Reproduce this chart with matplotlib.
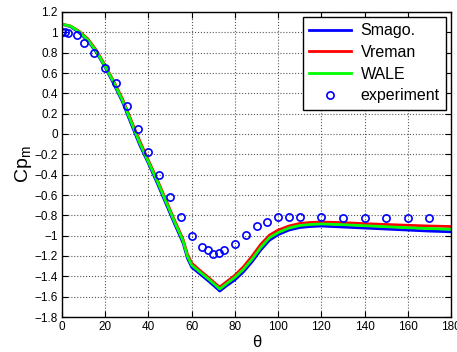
import matplotlib
matplotlib.use('Agg')
import matplotlib.pyplot as plt
from matplotlib.ticker import FuncFormatter

plt.rcParams['font.family'] = ['Liberation Sans', 'DejaVu Sans']

# LES curves (theta in degrees)
theta_les = [0, 4, 8, 12, 16, 20, 24, 28, 32, 36, 40, 44, 48, 52, 56, 58, 60,
             64, 68, 72, 73, 76, 80, 84, 88, 92, 96, 100, 105, 110, 115, 120,
             130, 140, 150, 160, 170, 180]
cp_smago = [1.08, 1.055, 0.995, 0.915, 0.80, 0.655, 0.49, 0.315, 0.10, -0.11,
            -0.29, -0.48, -0.68, -0.88, -1.07, -1.22, -1.31, -1.38, -1.45,
            -1.525, -1.545, -1.495, -1.435, -1.355, -1.255, -1.14, -1.045,
            -0.99, -0.945, -0.92, -0.91, -0.905, -0.915, -0.925, -0.935,
            -0.945, -0.955, -0.962]
cp_vreman = [1.08, 1.062, 1.01, 0.935, 0.82, 0.675, 0.515, 0.345, 0.135, -0.07,
             -0.26, -0.445, -0.645, -0.845, -1.035, -1.18, -1.27, -1.345, -1.415,
             -1.49, -1.505, -1.455, -1.39, -1.305, -1.2, -1.085, -0.995,
             -0.945, -0.905, -0.88, -0.87, -0.866, -0.872, -0.882, -0.89,
             -0.898, -0.905, -0.91]
cp_wale = [1.08, 1.06, 1.005, 0.925, 0.81, 0.665, 0.505, 0.33, 0.12, -0.09,
           -0.275, -0.46, -0.66, -0.86, -1.05, -1.2, -1.29, -1.36, -1.43,
           -1.505, -1.525, -1.475, -1.41, -1.33, -1.23, -1.115, -1.02,
           -0.97, -0.925, -0.9, -0.89, -0.885, -0.892, -0.902, -0.912,
           -0.922, -0.93, -0.937]

# experiment
theta_exp = [0, 1.5, 3, 7, 10, 15, 20, 25, 30, 35, 40, 45, 50, 55, 60, 65,
             67.5, 70, 72.5, 75, 80, 85, 90, 95, 100, 105, 110, 120, 130, 140,
             150, 160, 170]
cp_exp = [1.0, 1.0, 0.99, 0.975, 0.9, 0.8, 0.65, 0.5, 0.28, 0.05, -0.18, -0.40,
          -0.62, -0.82, -1.0, -1.11, -1.145, -1.18, -1.17, -1.14, -1.085, -0.99,
          -0.90, -0.865, -0.82, -0.82, -0.82, -0.82, -0.825, -0.825, -0.83,
          -0.83, -0.83]

xticks = list(range(0, 181, 20))
yticks = [round(-1.8 + 0.2 * i, 1) for i in range(16)]

fig = plt.figure(figsize=(4.57, 3.52), dpi=100)
ax = fig.add_axes([62 / 457, 35 / 352, 389 / 457, 305 / 352])

ax.plot(theta_les, cp_smago, color='#0000ff', lw=2.0, label='Smago.')
ax.plot(theta_les, cp_vreman, color='#ff0000', lw=2.0, label='Vreman')
ax.plot(theta_les, cp_wale, color='#00ff00', lw=2.0, label='WALE')
ax.plot(theta_exp, cp_exp, 'o', mfc='none', mec='#0000ff', ms=5.2, mew=1.2,
        label='experiment')

ax.set_xlim(0, 180)
ax.set_ylim(-1.8, 1.2)
ax.set_xticks(xticks)
ax.set_yticks(yticks)

def fmt(v, pos):
    s = '%g' % round(v, 1)
    return s.replace('-', '\u2212')

ax.yaxis.set_major_formatter(FuncFormatter(fmt))
ax.tick_params(direction='in', top=True, right=True, labelsize=8.5, length=4,
               width=0.8, pad=3)
ax.grid(True, linestyle=':', color='0.35', lw=0.8)
for sp in ax.spines.values():
    sp.set_linewidth(1.0)

ax.set_xlabel('\u03b8', fontsize=12, labelpad=1)
ax.set_ylabel('Cp$_\\mathregular{m}$', fontsize=14, labelpad=0)

leg = ax.legend(loc='upper right', bbox_to_anchor=(0.987, 0.984), fontsize=11.5,
                fancybox=False, framealpha=1, edgecolor='black', numpoints=1,
                handlelength=2.6, borderaxespad=0, labelspacing=0.42,
                handletextpad=0.6, borderpad=0.4)
leg.get_frame().set_linewidth(1.0)

plt.savefig('out.png', dpi=100)
